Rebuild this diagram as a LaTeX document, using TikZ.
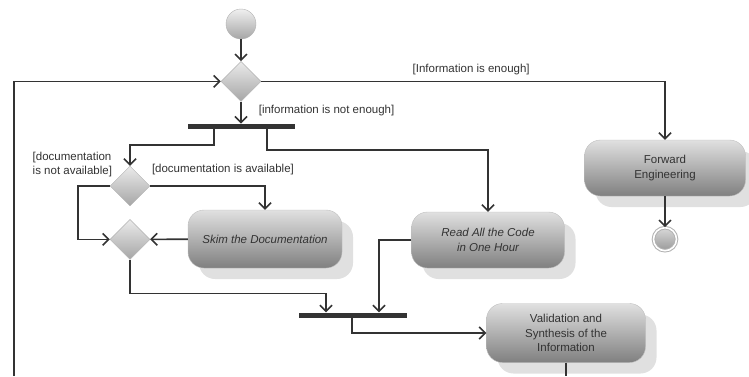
\documentclass[tikz,border=0pt]{standalone}
\usepackage{fontspec}
\setmainfont{Liberation Sans}
\usepackage{tikz}
\usetikzlibrary{positioning, shapes.geometric, graphs, arrows.meta, shadows}
\usepackage{xcolor}
\newcommand\diagfont{\fontsize{11.5}{14.5}\selectfont}

\begin{document}
\begin{tikzpicture}[x=1pt, y=-1pt, font=\diagfont, text=black!80,
    >={Straight Barb[length=6pt, width=12pt]},
    every edge/.style={draw, line width=1.6pt, black!80},
    flow/.style={draw=black!80, line width=1.6pt},
    startdot/.style={circle, minimum size=30pt, inner sep=0pt, draw=black!30, top color=black!6, bottom color=black!35},
    enddot/.style={circle, minimum size=23pt, inner sep=0pt, draw=black!30, line width=1pt, double=white, double distance=1.6pt, top color=black!15, bottom color=black!40},
    choice/.style={diamond, minimum width=40pt, minimum height=40pt, inner sep=0pt, draw=black!30, top color=black!8, bottom color=black!35},
    forkbar/.style={rectangle, minimum height=5pt, inner sep=0pt, fill=black!80},
    activity/.style={rectangle, rounded corners=16pt, inner sep=0pt, align=center, draw=black!25, top color=black!12, bottom color=black!50,
        drop shadow={shadow xshift=11pt, shadow yshift=-11pt, fill=black!12, opacity=1}},
    guard/.style={inner sep=1pt, align=left}]
    \useasboundingbox (0,0) rectangle (749,376);

    \node[startdot] (start) at (241,24) {};
    \node[choice, below=22pt of start] (d1) {};
    \node[forkbar, minimum width=107pt, below=22pt of d1] (fork1) {};

    \node[activity, minimum width=161pt, minimum height=56pt] (fe) at (665,168) {Forward\\Engineering};
    \node[enddot, below=31pt of fe] (finish) {};

    \node[choice] (d2) at (130,186) {};
    \node[choice, below=13pt of d2] (d3) {};
    \node[activity, minimum width=154pt, minimum height=58pt, font=\diagfont\itshape] (skim) at (265,239) {Skim the Documentation};
    \node[activity, minimum width=153pt, minimum height=56pt, font=\diagfont\itshape] (readcode) at (488,240) {Read All the Code\\in One Hour};

    \node[forkbar, minimum width=108pt] (join) at (353,315) {};
    \node[activity, minimum width=159pt, minimum height=59pt] (valid) at (566,333) {Validation and\\Synthesis of the\\Information};

    \coordinate (loopin) at (14,376);
    \coordinate (loopout) at (566,376);

    \graph{
    (start) -> (d1);
    (skim) -> (d3);
    (fe) -> (finish);
    };

    \draw[flow, ->] (d1) -- node[guard, pos=0.4, right=16pt] {[information is not enough]} (fork1);
    \draw[flow, ->] (d1.east) -- node[guard, above=5pt, pos=0.52] {[Information is enough]} (d1.east -| fe.north) -- (fe.north);
    \draw[flow, ->] ([xshift=-27pt]fork1.south) -- ++(0,16) -| (d2.north);
    \draw[flow, ->] ([xshift=26pt]fork1.south) -- ++(0,21) -| (readcode.north);

    \draw[flow, ->] (d2.east) -| node[guard, pos=0, anchor=south west, yshift=9pt] {[documentation is available]} (skim.north);
    \draw[flow, ->] (d2.west) node[guard, anchor=south east, xshift=4pt, yshift=7pt] {[documentation\\is not available]} -- ++(-32,0) |- (d3.west);
    \draw[flow, ->] (d3.south) -- ++(0,34) -| ([xshift=-27pt]join.north);
    \draw[flow, ->] (readcode.west) -| ([xshift=26pt]join.north);
    \draw[flow, ->] ([xshift=-1pt]join.south) |- (valid.west);

    \draw[flow, ->] (loopin) |- (d1.west);
    \draw[flow] (valid.south) -- (loopout);
\end{tikzpicture}
\end{document}
